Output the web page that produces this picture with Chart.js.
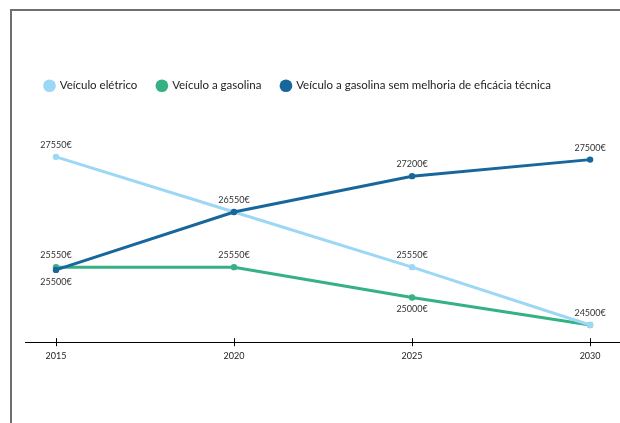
<!DOCTYPE html>
<html>
<head>
<meta charset="utf-8">
<script src="https://cdn.jsdelivr.net/npm/chart.js@4/dist/chart.umd.min.js"></script>
<style>
  html, body { margin: 0; padding: 0; background: #fff; }
  #wrap { position: relative; width: 620px; height: 423px; overflow: hidden; }
  #frame { position: absolute; left: 10px; top: 9px; width: 700px; height: 500px;
           border-left: 2px solid #6f6f6f; border-top: 2px solid #6f6f6f; }
  #c { position: absolute; left: 0; top: 0; }
</style>
</head>
<body>
<div id="wrap">
  <div id="frame"></div>
  <canvas id="c" width="620" height="423"></canvas>
</div>
<script>
const years = [2015, 2020, 2025, 2030];
const eletrico = [27550, 26550, 25550, 24500];
const gasolina = [25550, 25550, 25000, 24500];
const semMelhoria = [25500, 26550, 27200, 27500];
const seriesNames = ['Veículo elétrico', 'Veículo a gasolina', 'Veículo a gasolina sem melhoria de eficácia técnica'];

const FONT = 'Lato, "Noto Sans", sans-serif';
const euro = v => v + '€';

function pts(values) {
  return years.map((y, i) => ({ x: y, y: values[i] }));
}

function series(label, values, color, order, labelSide) {
  return {
    label, data: pts(values), order, labelSide,
    borderColor: color, backgroundColor: color,
    pointBackgroundColor: color, pointBorderColor: color,
    borderWidth: 3, pointRadius: 3.2, pointBorderWidth: 0, pointHoverRadius: 3.2,
    tension: 0, fill: false
  };
}

// value labels above/below each point; a value already printed at the same year is skipped
const valueLabels = {
  id: 'valueLabels',
  afterDatasetsDraw(chart) {
    const ctx = chart.ctx;
    ctx.save();
    ctx.font = '9px ' + FONT;
    ctx.fillStyle = '#333';
    ctx.textAlign = 'center';
    ctx.textBaseline = 'middle';
    chart.data.datasets.forEach((ds, di) => {
      const meta = chart.getDatasetMeta(di);
      meta.data.forEach((pt, i) => {
        const v = ds.data[i].y;
        for (let k = 0; k < di; k++) {
          if (chart.data.datasets[k].data[i].y === v) return;
        }
        const dy = ds.labelSide[i] === 'below' ? 12 : -12;
        ctx.fillText(euro(v), pt.x, pt.y + dy);
      });
    });
    ctx.restore();
  }
};

// small tick marks crossing the x axis line
const axisTicks = {
  id: 'axisTicks',
  afterDraw(chart) {
    const xs = chart.scales.x;
    const ctx = chart.ctx;
    ctx.save();
    ctx.strokeStyle = '#000';
    ctx.lineWidth = 1;
    years.forEach(y => {
      const px = Math.round(xs.getPixelForValue(y)) + 0.5;
      ctx.beginPath();
      ctx.moveTo(px, xs.top - 4);
      ctx.lineTo(px, xs.top + 4);
      ctx.stroke();
    });
    ctx.restore();
  }
};

new Chart(document.getElementById('c'), {
  type: 'line',
  data: {
    datasets: [
      series(seriesNames[0], eletrico, '#9cd7f6', 1, ['above', 'above', 'above', 'above']),
      series(seriesNames[1], gasolina, '#35b184', 2, ['above', 'above', 'below', 'below']),
      series(seriesNames[2], semMelhoria, '#17679c', 0, ['below', 'above', 'above', 'above'])
    ]
  },
  options: {
    responsive: false,
    animation: false,
    layout: { autoPadding: false, padding: { top: 60, left: 25, right: 0, bottom: 54 } },
    plugins: {
      tooltip: { enabled: false },
      legend: {
        position: 'top',
        align: 'start',
        labels: {
          usePointStyle: true,
          pointStyle: 'circle',
          boxWidth: 9,
          boxHeight: 9,
          padding: 20,
          color: '#222',
          font: { family: FONT, size: 11.5 },
          sort: (a, b) => a.datasetIndex - b.datasetIndex,
          generateLabels(chart) {
            const items = Chart.defaults.plugins.legend.labels.generateLabels(chart);
            items.forEach(it => { it.lineWidth = 0; });
            return items;
          }
        }
      }
    },
    scales: {
      x: {
        type: 'linear',
        min: 2014.13,
        max: 2030.84,
        afterBuildTicks: axis => { axis.ticks = years.map(v => ({ value: v })); },
        afterFit: axis => { axis.paddingLeft = 0; axis.paddingRight = 0; },
        grid: { display: false, drawTicks: false },
        border: { display: true, color: '#000', width: 1 },
        ticks: {
          padding: 8,
          color: '#222',
          font: { family: FONT, size: 9 },
          callback: v => String(v)
        }
      },
      y: {
        display: false,
        min: 24189,
        max: 28554
      }
    }
  },
  plugins: [valueLabels, axisTicks]
});
</script>
</body>
</html>
